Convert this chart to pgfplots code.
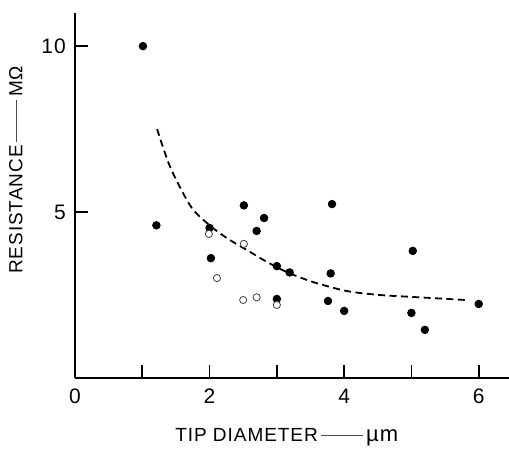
\documentclass[border=0pt]{standalone}
\usepackage{pgfplots}
\pgfplotsset{compat=1.18}
\usepackage{fontspec}
\setmainfont{Liberation Sans}
\newfontfamily\spaced[LetterSpace=5]{Liberation Sans}
\newcommand{\labdash}{\,\raisebox{0.6ex}{\color{black!70}\rule{21pt}{0.4pt}}\,}

\begin{document}
\begin{tikzpicture}
\begin{axis}[
    scale only axis,
    width=217pt, height=182.5pt,
    xmin=0, xmax=6.45,
    ymin=0, ymax=11,
    axis x line=bottom, axis y line=left,
    axis line style={-, line width=1pt},
    xtick={0,1,2,3,4,5,6},
    xticklabels={0,,2,,4,,6},
    ytick={5,10},
    tick align=inside,
    major tick length=6.5pt,
    every tick/.style={black, line width=0.8pt},
    tick label style={font=\spaced\fontsize{10.5}{12}\selectfont},
    /pgf/number format/assume math mode=true,
    xticklabel style={yshift=-2pt},
    yticklabel style={xshift=-1pt},
    clip=false,
    every axis y label/.style={at={(axis description cs:-0.136,0.57)},rotate=90,anchor=center},
    every axis x label/.style={at={(axis description cs:0.488,-0.162)},anchor=center},
    label style={font=\spaced\fontsize{9.5}{11}\selectfont},
    ylabel={RESISTANCE\labdash MΩ},
    xlabel={TIP DIAMETER\labdash {\fontsize{11}{12}\selectfont µm}},
]

% fitted curve
\addplot[black, line width=0.9pt, dash pattern=on 3.5pt off 2.2pt, smooth] coordinates {
    (1.22,7.50)(1.39,6.48)(1.56,5.75)(1.76,5.06)(2.05,4.52)(2.30,4.16)
    (2.55,3.86)(2.85,3.50)(3.15,3.19)(3.54,2.89)(4.04,2.62)(4.53,2.50)
    (5.03,2.44)(5.80,2.35)
};

% filled circles
\addplot[only marks, mark=*, mark size=1.9pt, black] coordinates {
    (1.01,10.0)(1.21,4.60)(2.00,4.52)(2.02,3.61)(2.51,5.20)(2.70,4.43)
    (2.81,4.82)(3.00,3.37)(3.19,3.18)(3.00,2.38)(3.82,5.24)(3.80,3.15)
    (3.76,2.32)(4.00,2.02)(5.02,3.83)(5.00,1.96)(5.20,1.45)(6.00,2.23)
};

% open circles
\addplot[only marks, mark=*, mark size=1.8pt, draw=black!75, fill=white, mark options={line width=0.4pt}] coordinates {
    (1.99,4.34)(2.11,3.01)(2.51,4.04)(2.50,2.35)(2.70,2.43)(3.00,2.20)
};

\coordinate (bl) at (axis cs:-1.114,-2.23);
\coordinate (tr) at (axis cs:6.45,11.39);
\end{axis}
\pgfresetboundingbox
\path (bl) rectangle (tr);
\end{tikzpicture}
\end{document}
